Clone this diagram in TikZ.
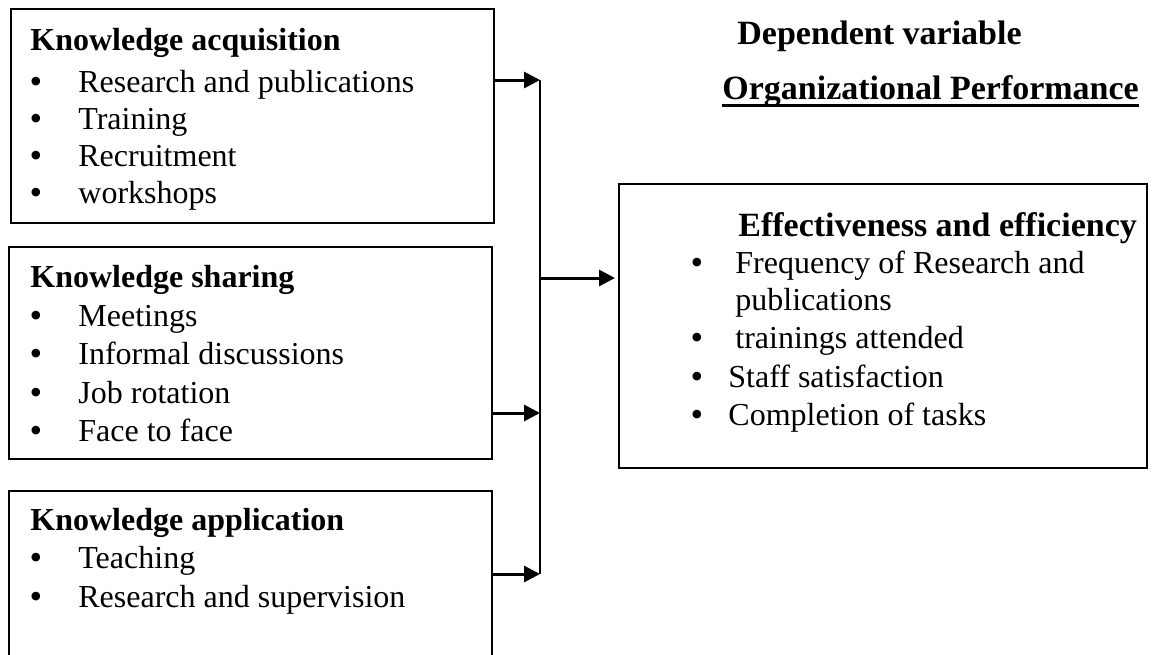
\documentclass[tikz,border=0pt]{standalone}
\usepackage{fontspec}
\setmainfont{Liberation Serif}
\usetikzlibrary{arrows.meta}
\begin{document}
\begin{tikzpicture}[x=0.5pt,y=-0.5pt,
  box/.style={draw,line width=0.75pt,inner sep=0pt,anchor=north west},
  txt/.style={anchor=base west,inner sep=0pt,font=\fontsize{16}{18}\selectfont},
  hd/.style={anchor=base west,inner sep=0pt,font=\fontsize{16}{18}\selectfont\bfseries},
  bighd/.style={anchor=base west,inner sep=0pt,font=\fontsize{17}{20}\selectfont\bfseries},
  bul/.style={anchor=base,inner sep=0pt,font=\fontsize{18}{18}\selectfont},
  conn/.style={line width=0.75pt},
  arr/.style={line width=1.5pt,-{Triangle[length=8pt,width=8pt]}}]
\useasboundingbox (0,0) rectangle (1156,654);
\clip (0,0) rectangle (1156,654);
% boxes
\node[box,minimum width=241.5pt,minimum height=107pt] (b1) at (10,8) {};
\node[box,minimum width=241.5pt,minimum height=106pt] (b2) at (8,246) {};
\node[box,minimum width=241.5pt,minimum height=100pt] (b3) at (8,490) {};
\node[box,minimum width=264pt,minimum height=142pt] (rb) at (618,183) {};
% box 1
\node[hd] (h1) at (30,50) {Knowledge acquisition};
\node[bul] (u11) at (36,93) {•};  \node[txt] (t11) at (78,92) {Research and publications};
\node[bul] (u12) at (36,130) {•}; \node[txt] (t12) at (78,129) {Training};
\node[bul] (u13) at (36,167) {•}; \node[txt] (t13) at (78,166) {Recruitment};
\node[bul] (u14) at (36,204) {•}; \node[txt] (t14) at (78,203) {workshops};
% box 2
\node[hd] (h2) at (30,287) {Knowledge sharing};
\node[bul] (u21) at (36,327) {•}; \node[txt] (t21) at (78,326) {Meetings};
\node[bul] (u22) at (36,365) {•}; \node[txt] (t22) at (78,364) {Informal discussions};
\node[bul] (u23) at (36,404) {•}; \node[txt] (t23) at (78,403) {Job rotation};
\node[bul] (u24) at (36,442) {•}; \node[txt] (t24) at (78,441) {Face to face};
% box 3
\node[hd] (h3) at (30,530) {Knowledge application};
\node[bul] (u31) at (36,569) {•}; \node[txt] (t31) at (78,568) {Teaching};
\node[bul] (u32) at (36,608) {•}; \node[txt] (t32) at (78,607) {Research and supervision};
% right side titles
\node[bighd] (dv) at (737,44) {Dependent variable};
\node[bighd] (op) at (722,99) {Organizational Performance};
\draw[line width=1.4pt] ([yshift=-3.2pt]op.base west) -- ([yshift=-3.2pt]op.base east);
% right box
\node[bighd] (h4) at (738,236) {Effectiveness and efficiency};
\node[bul] (u41) at (697,274) {•}; \node[txt] (t41) at (735,273) {Frequency of Research and};
\node[txt] (t41b) at (735,310) {publications};
\node[bul] (u42) at (697,349) {•}; \node[txt] (t42) at (735,348) {trainings attended};
\node[bul] (u43) at (697,388) {•}; \node[txt] (t43) at (728,387) {Staff satisfaction};
\node[bul] (u44) at (697,426) {•}; \node[txt] (t44) at (728,425) {Completion of tasks};
% connectors
\coordinate (j1) at (540,80);
\coordinate (j2) at (540,278);
\coordinate (j3) at (540,413);
\coordinate (j4) at (540,574);
\draw[conn] (j1) -- (j4);
\draw[arr] (b1.east |- j1) -- (j1);
\draw[arr,shorten >=1.5pt] (j2) -- (rb.west |- j2);
\draw[arr] (b2.east |- j3) -- (j3);
\draw[arr] (b3.east |- j4) -- (j4);
\end{tikzpicture}
\end{document}
